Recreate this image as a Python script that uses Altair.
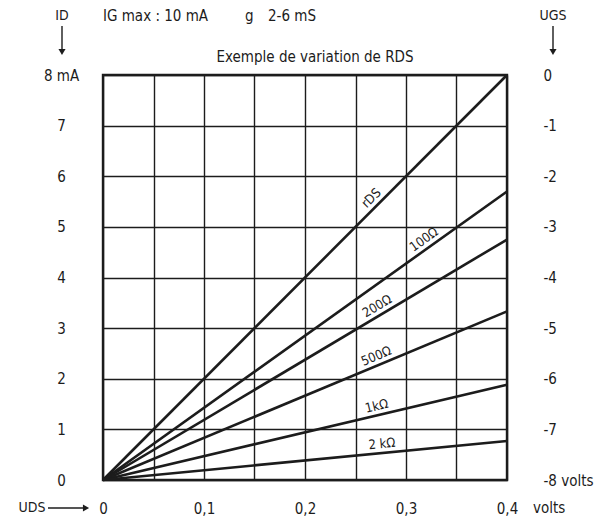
import math
import altair as alt
import pandas as pd

# ---- data ----
series = ["rDS", "100Ω", "200Ω", "500Ω", "1kΩ", "2 kΩ"]
uds_end = [0.4, 0.4, 0.4, 0.4, 0.4, 0.4]          # volts
id_end = [8.0, 5.7, 4.75, 3.33, 1.88, 0.77]        # mA at UDS = 0.4 V
label_at = [0.272, 0.323, 0.276, 0.274, 0.273, 0.277]  # UDS where each label sits

x_ticks = [0, 0.05, 0.1, 0.15, 0.2, 0.25, 0.3, 0.35, 0.4]
id_ticks = [0, 1, 2, 3, 4, 5, 6, 7, 8]

W, H = 404, 405
FONT = "Liberation Sans Narrow, DejaVu Sans Condensed, Roboto, sans-serif"
INK = "#1c1c1c"

rows = []
for s, xe, ye in zip(series, uds_end, id_end):
    rows.append({"s": s, "x": 0.0, "y": 0.0})
    rows.append({"s": s, "x": xe, "y": ye})
lines_df = pd.DataFrame(rows)

lab_rows = []
for s, xe, ye, xl in zip(series, uds_end, id_end, label_at):
    slope_px = (ye / 8 * H) / (xe / 0.4 * W)
    ang = 360 - math.degrees(math.atan(slope_px))
    lab_rows.append({"s": s, "x": xl, "y": ye / xe * xl, "angle": ang})
lab_df = pd.DataFrame(lab_rows)

xs = alt.Scale(domain=[0, 0.4], nice=False, zero=False)
ys = alt.Scale(domain=[0, 8], nice=False, zero=False)

x_axis = alt.Axis(
    values=x_ticks, grid=True, gridColor=INK, gridWidth=1.4, gridOpacity=1,
    domain=False, ticks=False, tickSize=0, title=None,
    labelExpr="round(datum.value*20) % 2 == 0 ? (datum.value == 0 ? '0' : replace(format(datum.value, '.1f'), '.', ',')) : ''",
    labelFont=FONT, labelFontSize=15, labelColor=INK, labelPadding=28,
    labelBaseline="middle", labelFlush=False, labelOverlap=False,
)
y_axis_left = alt.Axis(
    values=id_ticks, grid=True, gridColor=INK, gridWidth=1.4, gridOpacity=1,
    domain=False, ticks=False, tickSize=0, title=None,
    labelExpr="datum.value == 8 ? '8 mA' : '' + datum.value",
    labelFont=FONT, labelFontSize=15, labelColor=INK, labelPadding=42,
    labelAlign="center", labelBaseline="middle", labelFlush=False, labelOverlap=False,
)
y_axis_right = alt.Axis(
    orient="right", values=id_ticks, grid=False,
    domain=False, ticks=False, tickSize=0, title=None,
    labelExpr="datum.value == 8 ? '0' : (datum.value == 0 ? '-8 volts' : '-' + (8 - datum.value))",
    labelFont=FONT, labelFontSize=15, labelColor=INK, labelPadding=36,
    labelAlign="left", labelBaseline="middle", labelFlush=False, labelOverlap=False,
)

lines = alt.Chart(lines_df).mark_line(color=INK, strokeWidth=2.6).encode(
    x=alt.X("x:Q", scale=xs, axis=x_axis),
    y=alt.Y("y:Q", scale=ys, axis=y_axis_left),
    detail="s:N",
)

labels = alt.Chart(lab_df).mark_text(
    font=FONT, fontSize=13, color=INK, align="center", baseline="middle", dy=-9
).encode(
    x=alt.X("x:Q", scale=xs),
    y=alt.Y("y:Q", scale=ys, axis=None),
    text="s:N",
    angle=alt.Angle("angle:Q", scale=None),
)

right = alt.Chart(lines_df).mark_line(opacity=0).encode(
    x=alt.X("x:Q", scale=xs),
    y=alt.Y("y:Q", scale=ys, axis=y_axis_right),
    detail="s:N",
)

def txt(t, x, y, size=15, align="center", baseline="middle"):
    return alt.Chart(pd.DataFrame({"t": [t]})).mark_text(
        font=FONT, fontSize=size, color=INK, align=align, baseline=baseline
    ).encode(text="t:N", x=alt.value(x), y=alt.value(y))

def arrow(x1, y1, x2, y2, angle=0):
    r = alt.Chart(pd.DataFrame({"a": [0]})).mark_rule(color=INK, strokeWidth=1.4).encode(
        x=alt.value(x1), x2=alt.value(x2), y=alt.value(y1), y2=alt.value(y2))
    p = alt.Chart(pd.DataFrame({"a": [0]})).mark_point(
        shape="triangle", filled=True, color=INK, opacity=1, size=50, angle=angle
    ).encode(x=alt.value(x2), y=alt.value(y2))
    return r + p

annot = alt.layer(
    txt("IG max : 10 mA", 0, -54, size=15, align="left", baseline="alphabetic"),
    txt("g", 142, -54, size=15, align="left", baseline="alphabetic"),
    txt("2-6 mS", 165, -54, size=15, align="left", baseline="alphabetic"),
    txt("ID", -41, -59, size=14),
    arrow(-41, -49, -41, -24, angle=180),
    txt("UGS", 450, -59, size=14),
    arrow(450, -49, 450, -24, angle=180),
    txt("Exemple de variation de RDS", 212, -18, size=15),
    txt("UDS", -71, 433, size=14),
    arrow(-55, 433, -18, 433, angle=90),
    txt("volts", 430, 433, size=15, align="left"),
)

chart = alt.layer(lines, labels, right, annot).resolve_scale(y="independent").properties(
    width=W, height=H,
    autosize=alt.AutoSizeParams(type="none"),
    padding={"left": 95, "top": 67, "right": 90, "bottom": 37},
    background="white",
).configure_view(stroke=INK, strokeWidth=2.4)

chart.save("out.html", embed_options={"renderer": "svg", "actions": False})
